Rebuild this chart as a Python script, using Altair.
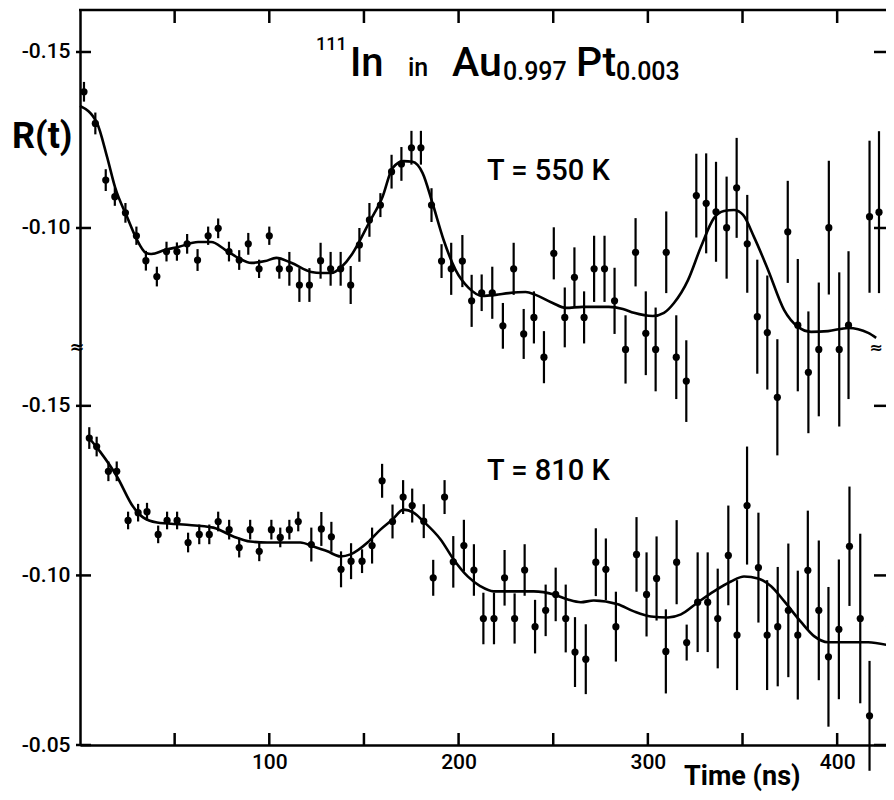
import altair as alt
import pandas as pd

# ---------------- data ----------------
# upper panel: T = 550 K
t_550 = [2.1, 8.1, 13.6, 18.4, 24.0, 29.8, 34.8, 40.6, 45.7, 51.2, 56.6, 62.1, 67.7, 73.0, 78.7,
         84.1, 88.9, 94.6, 100.0, 105.3, 110.6, 115.9, 121.2, 127.1, 132.4, 137.7, 143.0,
         147.6, 152.9, 158.7, 164.6, 169.8, 175.1, 180.1, 185.7, 191.0, 196.1, 202.0, 206.9,
         212.2, 217.8, 223.4, 229.1, 234.4, 239.8, 245.1, 250.3, 256.1, 261.2, 266.3, 271.6,
         277.1, 282.4, 288.2, 293.5, 298.9, 304.1, 309.7, 315.0, 320.3, 325.6, 330.8, 336.0,
         341.6, 346.9, 352.5, 357.8, 363.1, 368.4, 373.9, 379.2, 384.8, 390.3, 395.6, 401.1,
         406.0, 417.1, 422.1, 427.7]
r_550 = [-0.1387, -0.1297, -0.1136, -0.1089, -0.1043, -0.0978, -0.0907, -0.0862, -0.0933, -0.0933,
         -0.0955, -0.0909, -0.0978, -0.0999, -0.0933, -0.0909, -0.0955, -0.0884, -0.0978, -0.0884,
         -0.0884, -0.0838, -0.0838, -0.0907, -0.0884, -0.0884, -0.0838,
         -0.0952, -0.1023, -0.1065, -0.1160, -0.1182, -0.1228, -0.1228, -0.1065, -0.0906, -0.0884,
         -0.0906, -0.0793, -0.0816, -0.0816, -0.0722, -0.0884, -0.0699, -0.0746, -0.0633, -0.0928,
         -0.0746, -0.0860, -0.0746, -0.0884, -0.0884, -0.0793,
         -0.0655, -0.0931, -0.0701, -0.0655, -0.0931, -0.0633, -0.0565, -0.1092, -0.1070, -0.1046,
         -0.1001, -0.1114, -0.0955, -0.0748, -0.0703, -0.0519, -0.0989, -0.0724, -0.0590, -0.0655,
         -0.1001, -0.0655, -0.0724, -0.1032, -0.1045, -0.0770]
e_550 = [0.0028, 0.0031, 0.0031, 0.0026, 0.0028, 0.0026, 0.0028, 0.0028, 0.0028, 0.0026,
         0.0028, 0.0031, 0.0026, 0.0028, 0.0028, 0.0028, 0.0031, 0.0026, 0.0026, 0.0028,
         0.0048, 0.0048, 0.0048, 0.0051, 0.0048, 0.0048, 0.0054,
         0.0048, 0.0048, 0.0034, 0.0048, 0.0048, 0.0048, 0.0048, 0.0048, 0.0048, 0.0074,
         0.0074, 0.0074, 0.0052, 0.0074, 0.0065, 0.0074, 0.0071, 0.0074, 0.0074, 0.0074,
         0.0085, 0.0085, 0.0074, 0.0094, 0.0094, 0.0094,
         0.0097, 0.0097, 0.0119, 0.0119, 0.0116, 0.0119, 0.0116, 0.0119, 0.0142, 0.0142,
         0.0145, 0.0142, 0.0139, 0.0162, 0.0162, 0.0165, 0.0145, 0.0188, 0.0173, 0.0190,
         0.0190, 0.0219, 0.0210, 0.0216, 0.0230, 0.0205]
fit_t_550 = [0.0, 9.0, 14.3, 18.5, 24.9, 29.6, 34.9, 37.6, 45.0, 51.9, 62.4, 69.3, 76.7, 83.6, 90.5,
             97.9, 103.7, 111.6, 122.2, 127.5, 132.8, 138.1, 143.4, 147.1, 152.9, 159.8, 165.1,
             170.9, 175.7, 181.0, 186.2, 192.1, 198.4, 205.3, 212.7, 219.6, 226.5, 235.4, 240.7,
             249.7, 256.6, 265.6, 279.4, 286.8, 292.6, 302.6, 308.5, 313.8, 321.2, 328.0, 334.9,
             340.2, 345.5, 350.3, 356.1, 363.5, 372.0, 379.4, 386.2, 395.2, 405.8, 416.4, 420.6]
fit_r_550 = [-0.1347, -0.1298, -0.1202, -0.1116, -0.1031, -0.0972, -0.0929, -0.0926, -0.0938, -0.0946,
             -0.0960, -0.0960, -0.0938, -0.0915, -0.0901, -0.0906, -0.0915, -0.0901, -0.0875, -0.0872,
             -0.0872, -0.0889, -0.0923, -0.0957, -0.1017, -0.1088, -0.1170, -0.1190, -0.1188, -0.1156,
             -0.1071, -0.0966, -0.0881, -0.0830, -0.0807, -0.0810, -0.0815, -0.0818, -0.0810, -0.0787,
             -0.0773, -0.0776, -0.0776, -0.0770, -0.0759, -0.0750, -0.0759, -0.0787, -0.0852, -0.0946,
             -0.1028, -0.1048, -0.1051, -0.1037, -0.0974, -0.0881, -0.0767, -0.0719, -0.0705, -0.0707,
             -0.0716, -0.0702, -0.0688]

# lower panel: T = 810 K
t_810 = [4.9, 8.8, 15.0, 19.4, 25.4, 30.7, 35.4, 41.3, 46.0, 51.3, 57.1, 63.0, 68.3, 73.0, 78.8,
         84.1, 89.9, 94.7, 101.1, 105.8, 110.6, 115.3, 122.2, 127.5, 132.8, 137.9, 143.2, 149.0,
         154.3, 159.6, 165.1, 170.7, 175.5, 181.6, 186.6, 192.6, 197.2, 202.8, 208.1, 213.1,
         218.7, 224.3, 229.6, 234.9, 240.4, 246.0, 251.3, 256.6, 261.5, 267.2, 272.5, 277.8,
         283.1, 294.0, 299.3, 304.6, 309.5, 315.2, 320.5, 326.3, 331.6, 336.9, 342.5, 347.1,
         352.4, 358.4, 363.0, 368.6, 374.2, 379.2, 384.5, 390.3, 395.4, 400.9, 406.5, 412.2,
         417.1, 427.7]
r_810 = [-0.1405, -0.1380, -0.1307, -0.1307, -0.1162, -0.1185, -0.1188, -0.1121, -0.1162, -0.1162,
         -0.1097, -0.1121, -0.1121, -0.1159, -0.1135, -0.1082, -0.1135, -0.1071, -0.1135, -0.1112,
         -0.1135, -0.1159, -0.1091, -0.1137, -0.1114, -0.1018, -0.1042, -0.1042, -0.1088, -0.1279,
         -0.1159, -0.1231, -0.1206, -0.1160, -0.0993, -0.1231, -0.1040, -0.1088, -0.1016, -0.0873,
         -0.0873, -0.0993, -0.0873, -0.1016, -0.0849, -0.0897, -0.0944, -0.0873, -0.0774, -0.0753,
         -0.1039, -0.1018, -0.0849, -0.1062, -0.0944, -0.0991, -0.0776, -0.1039, -0.0802, -0.0921,
         -0.0921, -0.0873, -0.1059, -0.0824, -0.1206, -0.1023, -0.0824, -0.0849, -0.0897, -0.0824,
         -0.1015, -0.0897, -0.0760, -0.0841, -0.1086, -0.0873, -0.0586, -0.0849]
e_810 = [0.0032, 0.0029, 0.0029, 0.0029, 0.0026, 0.0026, 0.0026, 0.0026, 0.0026, 0.0026,
         0.0029, 0.0029, 0.0029, 0.0029, 0.0029, 0.0029, 0.0029, 0.0029, 0.0029, 0.0029,
         0.0029, 0.0029, 0.0050, 0.0050, 0.0044, 0.0053, 0.0053, 0.0035, 0.0053, 0.0050,
         0.0050, 0.0050, 0.0050, 0.0050, 0.0053, 0.0050, 0.0076, 0.0076, 0.0076, 0.0076,
         0.0076, 0.0082, 0.0074, 0.0076, 0.0079, 0.0076, 0.0079, 0.0100, 0.0103, 0.0103,
         0.0100, 0.0091, 0.0103, 0.0110, 0.0124, 0.0124, 0.0124, 0.0124, 0.0053, 0.0147,
         0.0147, 0.0147, 0.0147, 0.0162, 0.0174, 0.0162, 0.0162, 0.0176, 0.0197, 0.0190,
         0.0176, 0.0206, 0.0206, 0.0206, 0.0176, 0.0250, 0.0162, 0.0253]
fit_t_810 = [4.2, 10.6, 19.6, 28.0, 33.3, 40.7, 54.5, 70.4, 81.0, 89.9, 98.9, 107.4, 116.4, 123.3,
             130.7, 137.6, 142.9, 151.9, 158.7, 165.1, 170.9, 176.2, 181.5, 190.5, 197.4, 204.8,
             211.6, 218.5, 229.1, 239.7, 250.3, 257.7, 264.6, 271.4, 284.1, 292.6, 301.6, 310.6,
             317.5, 326.5, 334.9, 343.9, 350.8, 358.2, 365.1, 372.0, 381.0, 387.8, 395.2, 405.8,
             416.4, 427.0]
fit_r_810 = [-0.1409, -0.1365, -0.1291, -0.1203, -0.1171, -0.1156, -0.1150, -0.1141, -0.1115, -0.1100,
             -0.1097, -0.1097, -0.1097, -0.1085, -0.1071, -0.1056, -0.1062, -0.1097, -0.1135, -0.1165,
             -0.1194, -0.1185, -0.1159, -0.1106, -0.1047, -0.0997, -0.0968, -0.0953, -0.0953, -0.0953,
             -0.0944, -0.0929, -0.0921, -0.0926, -0.0915, -0.0894, -0.0879, -0.0876, -0.0885, -0.0921,
             -0.0953, -0.0982, -0.0997, -0.0991, -0.0968, -0.0924, -0.0862, -0.0821, -0.0803, -0.0803,
             -0.0803, -0.0794]

x_ticks = [50, 100, 150, 200, 250, 300, 350, 400]
x_labels = [100, 200, 300, 400]
y_ticks_550 = [-0.15, -0.10]
y_ticks_810 = [-0.15, -0.10, -0.05]

# ---------------- layout ----------------
W, H = 806, 735
FONT = "Roboto"
INK = "black"

xs = alt.Scale(domain=[0, 425.8], nice=False, zero=False)
ys_550 = alt.Scale(domain=[-0.16193, -0.06619], range=[0, 337], nice=False, zero=False)
ys_810 = alt.Scale(domain=[-0.16735, -0.05], range=[337, H], nice=False, zero=False)

xaxis = alt.Axis(values=x_labels, orient="bottom", ticks=False, tickSize=0, domain=True,
                 domainColor=INK, domainWidth=2.5, grid=False,
                 labelFontSize=21, labelFont=FONT, labelFontWeight=500, labelColor=INK,
                 labelPadding=6, title=None, format="d", labelFlush=False)


def yaxis(vals):
    return alt.Axis(values=vals, orient="left", ticks=False, tickSize=0, domain=True,
                    domainColor=INK, domainWidth=2.5, grid=False,
                    labelFontSize=21, labelFont=FONT, labelFontWeight=500, labelColor=INK,
                    labelPadding=10, title=None, labelFlush=False,
                    labelExpr="'-' + format(abs(datum.value), '.2f')")


def X(f):
    return alt.X(f, type="quantitative", scale=xs, axis=xaxis)


def panel(t, r, e, ft, fr, yt, ys, with_xticks):
    yax = yaxis(yt)
    df = pd.DataFrame({"t": t, "R": r, "e": e})
    df["lo"] = df["R"] - df["e"]
    df["hi"] = df["R"] + df["e"]
    cdf = pd.DataFrame({"t": ft, "R": fr})
    tdf = pd.DataFrame({"v": yt})

    bars = alt.Chart(df).mark_rule(color=INK, strokeWidth=2.2).encode(
        x=X("t"), y=alt.Y("lo:Q", scale=ys, axis=yax), y2="hi:Q")
    pts = alt.Chart(df).mark_circle(color=INK, size=52, opacity=1).encode(
        x=X("t"), y=alt.Y("R:Q", scale=ys, axis=yax))
    fit = alt.Chart(cdf).mark_line(color=INK, strokeWidth=2.6, interpolate="monotone").encode(
        x=X("t"), y=alt.Y("R:Q", scale=ys, axis=yax))
    tl = alt.Chart(tdf).mark_rule(color=INK, strokeWidth=2.5).encode(
        y=alt.Y("v:Q", scale=ys, axis=yax), x=alt.value(-4), x2=alt.value(11))
    tr = alt.Chart(tdf).mark_rule(color=INK, strokeWidth=2.5).encode(
        y=alt.Y("v:Q", scale=ys, axis=yax), x=alt.value(W - 12), x2=alt.value(W))
    layers = [bars, pts, fit, tl, tr]
    if with_xticks:
        xdf = pd.DataFrame({"v": x_ticks})
        layers.append(alt.Chart(xdf).mark_rule(color=INK, strokeWidth=2.5).encode(
            x=X("v"), y=alt.value(H - 12), y2=alt.value(H)))
        layers.append(alt.Chart(xdf).mark_rule(color=INK, strokeWidth=2.5).encode(
            x=X("v"), y=alt.value(0), y2=alt.value(13)))
    return alt.layer(*layers)


upper = panel(t_550, r_550, e_550, fit_t_550, fit_r_550, y_ticks_550, ys_550, True)
lower = panel(t_810, r_810, e_810, fit_t_810, fit_r_810, y_ticks_810, ys_810, False)

one = pd.DataFrame({"k": [0]})

# top edge of the frame
top_edge = alt.Chart(one).mark_rule(color=INK, strokeWidth=2.5).encode(
    x=alt.value(-1), x2=alt.value(W + 2), y=alt.value(0))


def label(text, x, y, size, weight="normal", align="left", font=FONT):
    return alt.Chart(one).mark_text(
        text=text, align=align, baseline="alphabetic", font=font, fontSize=size,
        fontWeight=weight, color=INK).encode(x=alt.value(x), y=alt.value(y))


texts = [
    label("111", 236, 40, 18, 500),
    label("In", 270, 66, 40, 500),
    label("in", 328, 66, 25, 500),
    label("Au", 372, 66, 41, 500),
    label("0.997", 423, 70, 25, 500),
    label("Pt", 496, 66, 41, 500),
    label("0.003", 536, 70, 25, 500),
    label("T = 550 K", 407, 170, 29, 500),
    label("T = 810 K", 407, 470, 29, 500),
    label("R(t)", -68, 138, 36, "bold"),
    label("Time (ns)", 604, 775, 27, "bold"),
    label("\u2248", -3, 343, 18, "bold", "center", "DejaVu Sans"),
    label("\u2248", W - 10, 343, 16, "bold", "center", "DejaVu Sans"),
]

chart = alt.layer(upper, lower, top_edge, *texts).resolve_scale(y="independent").properties(
    width=W, height=H,
    autosize=alt.AutoSizeParams(type="none"),
    padding={"left": 72, "top": 2, "right": 0, "bottom": 47},
).configure_view(stroke=None)

chart.save("out.html", embed_options={"renderer": "svg", "actions": False})
